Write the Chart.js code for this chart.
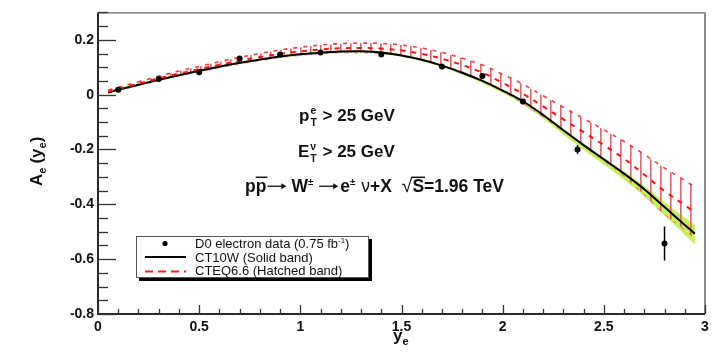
<!DOCTYPE html>
<html>
<head>
<meta charset="utf-8">
<script src="https://cdn.jsdelivr.net/npm/chart.js@4.4.1/dist/chart.umd.min.js"></script>
<style>
  html, body { margin: 0; padding: 0; background: #ffffff; }
  #wrap { width: 715px; height: 357px; }
</style>
</head>
<body>
<div id="wrap"><canvas id="c" width="715" height="357"></canvas></div>
<script>
// Electron rapidity grid used for the theory curves
const rapidity = [0.05, 0.1, 0.2, 0.3, 0.4, 0.5, 0.6, 0.7, 0.8, 0.9, 1.0, 1.1, 1.2, 1.3, 1.4, 1.5,
                  1.6, 1.7, 1.8, 1.9, 2.0, 2.1, 2.2, 2.3, 2.4, 2.5, 2.6, 2.7, 2.8, 2.9, 2.95];

// CT10W prediction (central) and its uncertainty band
const ct10wCentral = [0.008, 0.018, 0.036, 0.054, 0.071, 0.087, 0.102, 0.116, 0.128, 0.139, 0.147, 0.153, 0.157, 0.158, 0.154, 0.143,
                      0.127, 0.106, 0.080, 0.050, 0.015, -0.024, -0.074, -0.130, -0.184, -0.236, -0.288, -0.345, -0.410, -0.475, -0.507];
const ct10wLow = [0.004, 0.014, 0.032, 0.050, 0.067, 0.083, 0.098, 0.112, 0.124, 0.135, 0.143, 0.149, 0.153, 0.154, 0.150, 0.138,
                  0.122, 0.100, 0.073, 0.042, 0.006, -0.035, -0.087, -0.145, -0.201, -0.255, -0.310, -0.371, -0.441, -0.511, -0.547];
const ct10wHigh = [0.012, 0.022, 0.040, 0.058, 0.075, 0.091, 0.106, 0.120, 0.132, 0.143, 0.151, 0.157, 0.161, 0.162, 0.158, 0.147,
                   0.131, 0.110, 0.084, 0.054, 0.019, -0.020, -0.070, -0.125, -0.179, -0.230, -0.280, -0.333, -0.392, -0.448, -0.475];

// CTEQ6.6 prediction (central) and its uncertainty band
const cteqCentral = [0.011, 0.021, 0.040, 0.059, 0.077, 0.093, 0.109, 0.124, 0.137, 0.149, 0.158, 0.165, 0.169, 0.170, 0.168, 0.161,
                     0.149, 0.131, 0.108, 0.080, 0.043, 0.003, -0.043, -0.090, -0.137, -0.184, -0.234, -0.292, -0.352, -0.403, -0.430];
const cteqHigh = [0.017, 0.027, 0.047, 0.067, 0.086, 0.103, 0.120, 0.136, 0.150, 0.163, 0.173, 0.181, 0.186, 0.188, 0.187, 0.181,
                  0.170, 0.154, 0.133, 0.108, 0.074, 0.038, -0.004, -0.046, -0.087, -0.128, -0.171, -0.218, -0.268, -0.313, -0.337];
const cteqLow = [0.005, 0.015, 0.033, 0.051, 0.068, 0.083, 0.098, 0.112, 0.124, 0.135, 0.143, 0.149, 0.152, 0.152, 0.149, 0.141,
                 0.128, 0.108, 0.083, 0.052, 0.012, -0.032, -0.082, -0.134, -0.187, -0.240, -0.297, -0.366, -0.436, -0.493, -0.523];

// D0 electron charge asymmetry measurement
const d0Rapidity = [0.1, 0.3, 0.5, 0.7, 0.9, 1.1, 1.4, 1.7, 1.9, 2.1, 2.37, 2.8];
const d0Asym     = [0.018, 0.057, 0.082, 0.132, 0.146, 0.154, 0.146, 0.103, 0.068, -0.025, -0.200, -0.543];
const d0Err      = [0.005, 0.005, 0.006, 0.006, 0.006, 0.006, 0.006, 0.007, 0.008, 0.009, 0.016, 0.062];

// Axis ticks
const xTicks = [0, 0.5, 1, 1.5, 2, 2.5, 3];
const xTickLabels = ['0', '0.5', '1', '1.5', '2', '2.5', '3'];
const yTicks = [-0.8, -0.6, -0.4, -0.2, 0, 0.2];
const yTickLabels = ['-0.8', '-0.6', '-0.4', '-0.2', '0', '0.2'];

const FONT = '"Liberation Sans", Arial, Helvetica, sans-serif';

function pts(xs, ys) { return xs.map((x, i) => ({ x: x, y: ys[i] })); }

function hatchPattern() {
  const c = document.createElement('canvas');
  c.width = 10; c.height = 10;
  const g = c.getContext('2d');
  g.fillStyle = 'rgba(222,80,95,0.55)';
  g.fillRect(0, 0, 2, 10);
  g.fillStyle = 'rgba(222,80,95,0.75)';
  g.fillRect(0, 0, 1, 10);
  return g.createPattern(c, 'repeat');
}

// Draws a run of text pieces; each piece may be normal, superscript, subscript or an arrow.
function drawRich(ctx, x, y, pieces, size, weight) {
  let cx = x;
  for (const p of pieces) {
    if (p.stack) {
      // superscript and subscript sharing the same horizontal slot
      ctx.font = `${weight} ${size * 0.62}px ${FONT}`;
      const w1 = ctx.measureText(p.sup).width, w2 = ctx.measureText(p.sub).width;
      ctx.fillText(p.sup, cx + 1, y - size * 0.42);
      ctx.fillText(p.sub, cx + 1, y + size * 0.28);
      cx += Math.max(w1, w2) + 2;
      continue;
    }
    if (p.arrow) {
      const ay = y - size * 0.33;
      ctx.save();
      ctx.strokeStyle = ctx.fillStyle;
      ctx.lineWidth = 1.3;
      ctx.beginPath(); ctx.moveTo(cx, ay); ctx.lineTo(cx + p.arrow - 2, ay); ctx.stroke();
      ctx.beginPath();
      ctx.moveTo(cx + p.arrow, ay);
      ctx.lineTo(cx + p.arrow - 5, ay - 3);
      ctx.lineTo(cx + p.arrow - 5, ay + 3);
      ctx.closePath(); ctx.fill();
      ctx.restore();
      cx += p.arrow + (p.gap || 0);
      continue;
    }
    const s = p.scale ? size * p.scale : size;
    const dy = p.dy ? p.dy * size : 0;
    ctx.font = `${p.weight || weight} ${s}px ${FONT}`;
    ctx.fillText(p.t, cx, y + dy);
    const w = ctx.measureText(p.t).width;
    if (p.over) {
      ctx.save();
      ctx.lineWidth = 1.5;
      ctx.strokeStyle = ctx.fillStyle;
      ctx.beginPath();
      ctx.moveTo(cx - (p.overPad || 0), y - s * 0.84);
      ctx.lineTo(cx + w + 1, y - s * 0.84);
      ctx.stroke();
      ctx.restore();
    }
    cx += w + (p.gap || 0);
  }
  return cx;
}

const decorations = {
  id: 'decorations',
  beforeDatasetDraw(chart, args) {
    if (args.index !== 0) return;
    const { ctx, scales: { x, y } } = chart;
    ctx.save();
    ctx.strokeStyle = '#000';
    ctx.lineWidth = 1.5;
    d0Rapidity.forEach((v, i) => {
      const px = x.getPixelForValue(v);
      ctx.beginPath();
      ctx.moveTo(px, y.getPixelForValue(d0Asym[i] + d0Err[i]));
      ctx.lineTo(px, y.getPixelForValue(d0Asym[i] - d0Err[i]));
      ctx.stroke();
    });
    ctx.restore();
  },
  afterDraw(chart) {
    const { ctx, chartArea: a, scales: { x, y } } = chart;
    ctx.save();

    // frame
    ctx.strokeStyle = '#666';
    ctx.lineWidth = 1.2;
    ctx.beginPath(); ctx.moveTo(a.left, a.top + 0.5); ctx.lineTo(a.right, a.top + 0.5); ctx.stroke();
    ctx.strokeStyle = '#8a8a8a';
    ctx.lineWidth = 2;
    ctx.beginPath(); ctx.moveTo(a.right, a.top); ctx.lineTo(a.right, a.bottom); ctx.stroke();
    ctx.strokeStyle = '#2a2a2a';
    ctx.lineWidth = 2;
    ctx.beginPath(); ctx.moveTo(a.left, a.top); ctx.lineTo(a.left, a.bottom); ctx.lineTo(a.right, a.bottom); ctx.stroke();

    // tick marks, pointing into the plot
    ctx.lineWidth = 1.3;
    ctx.strokeStyle = '#333';
    for (let k = -16; k <= 6; k++) {
      const v = k * 0.05;
      const py = Math.round(y.getPixelForValue(v)) + 0.5;
      const len = (k % 4 === 0) ? 18 : 10;
      ctx.beginPath(); ctx.moveTo(a.left, py); ctx.lineTo(a.left + len, py); ctx.stroke();
    }
    for (let k = 0; k <= 30; k++) {
      const v = k * 0.1;
      const px = Math.round(x.getPixelForValue(v)) + 0.5;
      const len = (k % 5 === 0) ? 9 : 5;
      ctx.beginPath(); ctx.moveTo(px, a.bottom); ctx.lineTo(px, a.bottom - len); ctx.stroke();
    }

    ctx.fillStyle = '#111';
    ctx.textAlign = 'left';
    ctx.textBaseline = 'alphabetic';

    // axis titles
    ctx.save();
    ctx.translate(42, 186);
    ctx.rotate(-Math.PI / 2);
    drawRich(ctx, 0, 0, [
      { t: 'A' }, { t: 'e', scale: 0.65, dy: 0.25, gap: 4 },
      { t: '(y' }, { t: 'e', scale: 0.65, dy: 0.25 }, { t: ')' }
    ], 17, 'bold');
    ctx.restore();
    drawRich(ctx, 393, 341, [{ t: 'y' }, { t: 'e', scale: 0.65, dy: 0.25 }], 17, 'bold');

    // kinematic cuts and process
    drawRich(ctx, 299, 121, [
      { t: 'p' }, { stack: true, sup: 'e', sub: 'T' }, { t: ' > 25 GeV' }
    ], 17, 'bold');
    drawRich(ctx, 298, 157, [
      { t: 'E' }, { stack: true, sup: 'ν', sub: 'T' }, { t: ' > 25 GeV' }
    ], 17, 'bold');
    drawRich(ctx, 245, 192, [
      { t: 'p' }, { t: 'p', over: true, gap: 1 }, { arrow: 19, gap: 5 },
      { t: 'W' }, { t: '±', scale: 0.55, dy: -0.4, gap: 6 },
      { arrow: 19, gap: 2 }, { t: 'e' }, { t: '±', scale: 0.55, dy: -0.4, gap: 6 },
      { t: 'ν', weight: 'normal' }, { t: '+X', gap: 10 },
      { t: '√', weight: 'normal', scale: 1.1 }, { t: 'S', over: true, overPad: 1 }, { t: '=1.96 TeV' }
    ], 17.5, 'bold');

    // legend box with drop shadow
    ctx.fillStyle = '#000';
    ctx.fillRect(139, 239, 233, 42);
    ctx.fillStyle = '#fff';
    ctx.fillRect(136, 236, 233, 42);
    ctx.strokeStyle = '#555';
    ctx.lineWidth = 1;
    ctx.strokeRect(136.5, 236.5, 232, 41);

    ctx.fillStyle = '#000';
    ctx.beginPath(); ctx.arc(165, 243.5, 2.6, 0, Math.PI * 2); ctx.fill();
    ctx.strokeStyle = '#000';
    ctx.lineWidth = 2;
    ctx.beginPath(); ctx.moveTo(145, 257); ctx.lineTo(186, 257); ctx.stroke();
    ctx.strokeStyle = '#ff1a1a';
    ctx.setLineDash([8, 5]);
    ctx.beginPath(); ctx.moveTo(145, 271.5); ctx.lineTo(186, 271.5); ctx.stroke();
    ctx.setLineDash([]);

    ctx.fillStyle = '#111';
    drawRich(ctx, 195, 248, [
      { t: 'D0 electron data (0.75 fb' }, { t: '-1', scale: 0.6, dy: -0.42 }, { t: ')' }
    ], 13, 'normal');
    drawRich(ctx, 195, 261.5, [{ t: 'CT10W (Solid band)' }], 13, 'normal');
    drawRich(ctx, 195, 275, [{ t: 'CTEQ6.6 (Hatched band)' }], 13, 'normal');

    ctx.restore();
  }
};

const ctx = document.getElementById('c').getContext('2d');
new Chart(ctx, {
  type: 'line',
  data: {
    datasets: [
      { // 0: D0 data
        label: 'D0 electron data (0.75 fb-1)',
        data: pts(d0Rapidity, d0Asym),
        showLine: false,
        pointRadius: 3,
        pointBackgroundColor: '#000',
        pointBorderColor: '#000',
        pointBorderWidth: 0
      },
      { // 1: CTEQ6.6 central
        label: 'CTEQ6.6',
        data: pts(rapidity, cteqCentral),
        borderColor: '#ff1010',
        borderWidth: 2,
        borderDash: [5, 6],
        pointRadius: 0,
        tension: 0.35,
        fill: false
      },
      { // 2: CT10W central
        label: 'CT10W',
        data: pts(rapidity, ct10wCentral),
        borderColor: '#000',
        borderWidth: 2,
        pointRadius: 0,
        tension: 0.35,
        fill: false
      },
      { // 3: CTEQ6.6 band upper edge, hatched down to the lower edge
        label: 'CTEQ6.6 upper',
        data: pts(rapidity, cteqHigh),
        borderColor: 'rgba(238,50,60,0.95)',
        borderWidth: 1.6,
        borderDash: [4, 6],
        pointRadius: 0,
        tension: 0.35,
        fill: { target: '+1' },
        backgroundColor: hatchPattern()
      },
      { // 4: CTEQ6.6 band lower edge
        label: 'CTEQ6.6 lower',
        data: pts(rapidity, cteqLow),
        borderColor: 'rgba(240,90,100,0.6)',
        borderWidth: 1.2,
        borderDash: [4, 6],
        pointRadius: 0,
        tension: 0.35,
        fill: false
      },
      { // 5: CT10W band upper edge, filled to lower edge
        label: 'CT10W upper',
        data: pts(rapidity, ct10wHigh),
        borderWidth: 0,
        borderColor: 'rgba(0,0,0,0)',
        pointRadius: 0,
        tension: 0.35,
        fill: { target: '+1' },
        backgroundColor: '#c6f05c'
      },
      { // 6: CT10W band lower edge
        label: 'CT10W lower',
        data: pts(rapidity, ct10wLow),
        borderWidth: 0,
        borderColor: 'rgba(0,0,0,0)',
        pointRadius: 0,
        tension: 0.35,
        fill: false
      }
    ]
  },
  options: {
    responsive: false,
    animation: false,
    events: [],
    layout: { padding: { top: 5, right: 10, left: 0, bottom: 0 } },
    plugins: { legend: { display: false }, tooltip: { enabled: false } },
    scales: {
      x: {
        type: 'linear',
        min: 0, max: 3,
        afterBuildTicks: s => { s.ticks = xTicks.map(v => ({ value: v })); },
        afterFit: s => { s.height = 43; },
        grid: { display: false, drawTicks: false },
        border: { display: false },
        ticks: {
          padding: 5,
          maxRotation: 0,
          autoSkip: false,
          color: '#111',
          font: { family: FONT, size: 14, weight: 'bold' },
          callback: (v, i) => xTickLabels[i]
        }
      },
      y: {
        type: 'linear',
        min: -0.8, max: 0.3,
        afterBuildTicks: s => { s.ticks = yTicks.map(v => ({ value: v })); },
        afterFit: s => { s.width = 98; },
        grid: { display: false, drawTicks: false },
        border: { display: false },
        ticks: {
          padding: 4,
          autoSkip: false,
          color: '#111',
          font: { family: FONT, size: 14, weight: 'bold' },
          callback: (v, i) => yTickLabels[i]
        }
      }
    }
  },
  plugins: [decorations]
});
</script>
</body>
</html>
